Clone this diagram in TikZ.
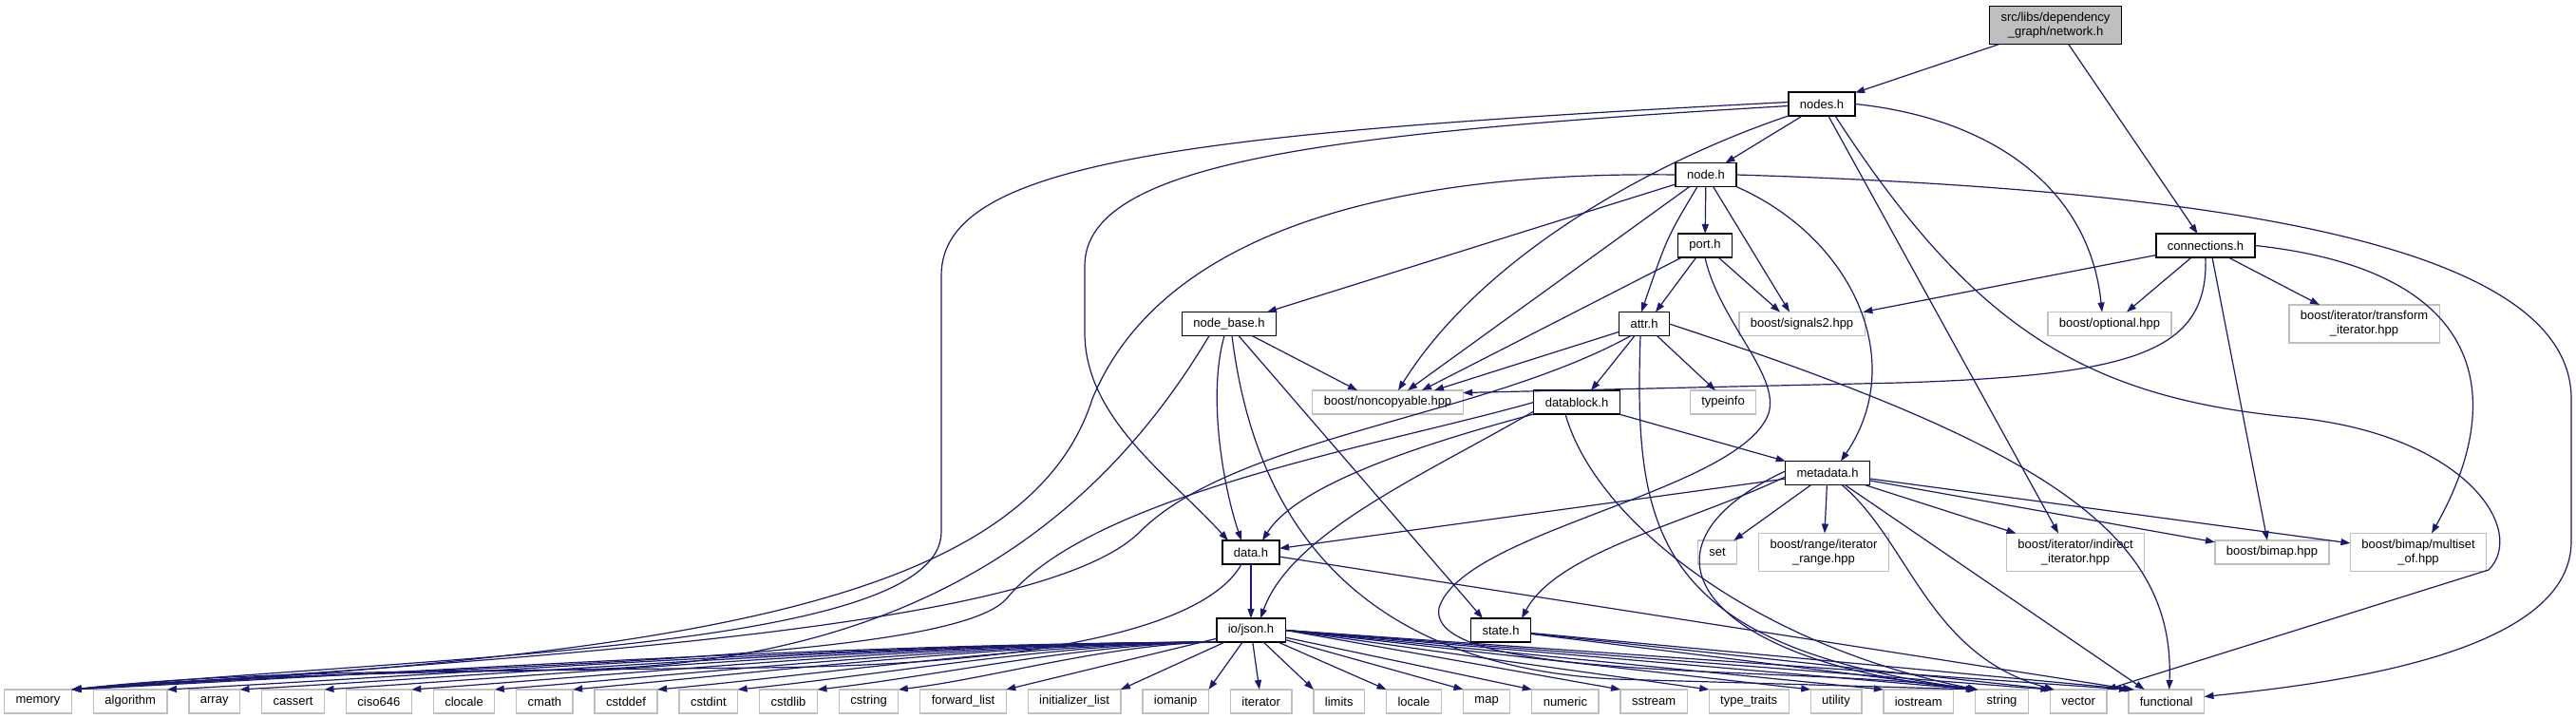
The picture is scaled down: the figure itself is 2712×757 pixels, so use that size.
\documentclass[tikz,border=0pt]{standalone}
\usepackage{fontspec}
\setmainfont{Liberation Sans}
\usepackage{xcolor}
\usepackage{tikz}
\usetikzlibrary{arrows.meta,positioning}
\definecolor{edgeblue}{HTML}{191970}
\definecolor{boxgray}{HTML}{BFBFBF}

\begin{document}
\begin{tikzpicture}[x=1pt,y=1pt,
  hdr/.style={draw=black,line width=1.4pt,fill=white,font=\fontsize{13pt}{15pt}\selectfont,
    inner xsep=12pt,inner ysep=2pt,minimum height=25pt,outer sep=0pt,align=center},
  sys/.style={hdr,draw=boxgray},
  root/.style={hdr,fill=boxgray},
  two/.style={minimum height=40pt},
  arr/.style={-{Triangle[length=10pt,width=7pt]},draw=edgeblue,line width=1.2pt}]
\useasboundingbox (0,0) rectangle (2712,-757);
\node[root,two] (net) at (2164,-26.5) {src/libs/dependency\\\_graph/network.h};
\node[hdr] (nodesh) at (1918,-109.5) {nodes.h};
\node[hdr] (nodeh) at (1796,-184) {node.h};
\node[hdr] (port) at (1795,-258.5) {port.h};
\node[hdr] (conn) at (2322,-258.5) {connections.h};
\node[hdr] (nodebase) at (1294,-341) {node\_base.h};
\node[hdr] (attr) at (1731,-341) {attr.h};
\node[sys] (signals) at (1897,-341) {boost/signals2.hpp};
\node[sys] (optional) at (2221,-341) {boost/optional.hpp};
\node[sys,two] (transform) at (2489,-341) {boost/iterator/transform\\\_iterator.hpp};
\node[sys] (noncopy) at (1461,-423.5) {boost/noncopyable.hpp};
\node[hdr] (datablock) at (1660,-423.5) {datablock.h};
\node[sys] (typeinfo) at (1814,-423.5) {typeinfo};
\node[hdr] (metadata) at (1924,-498) {metadata.h};
\node[hdr] (data) at (1317,-581.5) {data.h};
\node[sys] (set) at (1808,-581.5) {set};
\node[sys,two] (range) at (1920,-581.5) {boost/range/iterator\\\_range.hpp};
\node[sys,two] (indirect) at (2185,-581.5) {boost/iterator/indirect\\\_iterator.hpp};
\node[sys] (bimap) at (2392,-581.5) {boost/bimap.hpp};
\node[sys,two] (multiset) at (2546,-581.5) {boost/bimap/multiset\\\_of.hpp};
\node[hdr] (json) at (1317,-663.5) {io/json.h};
\node[hdr] (state) at (1580,-663.5) {state.h};
\node[sys] (memory) at (40,-738.5) {memory};
\node[sys,right=23pt of memory] (algorithm) {algorithm};
\node[sys,right=23pt of algorithm] (array) {array};
\node[sys,right=23pt of array] (cassert) {cassert};
\node[sys,right=23pt of cassert] (ciso) {ciso646};
\node[sys,right=23pt of ciso] (clocale) {clocale};
\node[sys,right=23pt of clocale] (cmath) {cmath};
\node[sys,right=23pt of cmath] (cstddef) {cstddef};
\node[sys,right=23pt of cstddef] (cstdint) {cstdint};
\node[sys,right=23pt of cstdint] (cstdlib) {cstdlib};
\node[sys,right=23pt of cstdlib] (cstring) {cstring};
\node[sys,right=23pt of cstring] (fwdlist) {forward\_list};
\node[sys,right=23pt of fwdlist] (initlist) {initializer\_list};
\node[sys,right=23pt of initlist] (iomanip) {iomanip};
\node[sys,right=23pt of iomanip] (iterator) {iterator};
\node[sys,right=23pt of iterator] (limits) {limits};
\node[sys,right=23pt of limits] (locale) {locale};
\node[sys,right=23pt of locale] (map) {map};
\node[sys,right=23pt of map] (numeric) {numeric};
\node[sys,right=23pt of numeric] (sstream) {sstream};
\node[sys,right=23pt of sstream] (typetraits) {type\_traits};
\node[sys,right=23pt of typetraits] (utility) {utility};
\node[sys,right=23pt of utility] (iostream) {iostream};
\node[sys,right=23pt of iostream] (string) {string};
\node[sys,right=23pt of string] (vector) {vector};
\node[sys,right=23pt of vector] (functional) {functional};
\draw[arr] (net) -- (nodesh); \draw[arr] (net) -- (conn);
\draw[arr] (nodesh) -- (nodeh);
\draw[arr] ([yshift=2pt]nodesh.west) .. controls (1250,-140) and (991,-170) .. (991,-290) -- (991,-560) .. controls (991,-685) and (450,-690) .. (memory.north east);
\draw[arr] ([yshift=-2pt]nodesh.west) .. controls (1400,-140) and (1142,-170) .. (1142,-280) -- (1142,-350) .. controls (1142,-440) and (1230,-500) .. ([xshift=6pt]data.north west);
\draw[arr] (nodesh.south west) .. controls (1740,-170) and (1560,-270) .. ([xshift=11pt]noncopy.north);
\draw[arr] (nodesh) -- ([xshift=-18pt]indirect.north);
\draw[arr] ([xshift=14pt]nodesh.south) .. controls (2080,-350) and (2200,-420) .. (2420,-440) .. controls (2600,-460) and (2660,-560) .. (2620,-600) -- (vector.north east);
\draw[arr] (nodesh.east) .. controls (2100,-125) and (2200,-200) .. ([xshift=-8pt]optional.north);
\draw[arr] (nodeh.west) .. controls (1450,-180) and (1220,-250) .. (1150,-420) .. controls (1080,-640) and (700,-690) .. (memory.north east);
\draw[arr] (nodeh) -- (nodebase); \draw[arr] (nodeh) -- ([xshift=21pt]noncopy.north);
\draw[arr] (nodeh) -- (port); \draw[arr] (nodeh) -- ([xshift=-13pt]signals.north);
\draw[arr] ([xshift=-9pt]nodeh.south) .. controls (1755,-250) .. ([xshift=-3pt]attr.north);
\draw[arr] (nodeh.south east) .. controls (1950,-250) and (2010,-380) .. ([xshift=14pt]metadata.north);
\draw[arr] (nodeh.east) .. controls (2350,-200) and (2707,-260) .. (2707,-420) -- (2707,-570) .. controls (2707,-690) and (2450,-720) .. ([yshift=5pt]functional.east);
\draw[arr] (port) -- ([xshift=12pt]attr.north); \draw[arr] (port) -- ([xshift=-23pt]signals.north);
\draw[arr] (port) -- ([xshift=36pt]noncopy.north);
\draw[arr] (port.south) .. controls (1810,-340) and (1880,-400) .. (1860,-440) .. controls (1820,-520) and (1540,-560) .. (1515,-640) .. controls (1500,-720) and (1900,-700) .. ([xshift=2pt]string.north west);
\draw[arr] (conn) -- (signals); \draw[arr] (conn) -- ([xshift=18pt]optional.north);
\draw[arr] (conn) -- ([xshift=-47pt]transform.north);
\draw[arr] ([xshift=7pt]conn.south) -- ([xshift=-5pt]bimap.north);
\draw[arr] (conn.east) .. controls (2620,-285) and (2640,-420) .. ([xshift=14pt]multiset.north);
\draw[arr] (conn.south) .. controls (2325,-370) and (2250,-395) .. (2000,-403) -- ([yshift=10pt]noncopy.east);
\draw[arr] (nodebase) -- ([xshift=-32pt]noncopy.north);
\draw[arr] ([xshift=-5pt]nodebase.south) .. controls (1270,-420) and (1290,-520) .. ([xshift=-10pt]data.north);
\draw[arr] ([xshift=3pt]nodebase.south) .. controls (1320,-540) and (1420,-700) .. (1700,-715) -- ([xshift=2pt]string.north west);
\draw[arr] ([xshift=10pt]nodebase.south) -- ([xshift=-19pt]state.north);
\draw[arr] ([xshift=-21pt]nodebase.south) .. controls (1150,-560) and (950,-700) .. (600,-705) .. controls (350,-707) and (200,-712) .. (memory.north east);
\draw[arr] (attr) -- ([xshift=49pt]noncopy.north);
\draw[arr] ([xshift=-14pt]attr.south) .. controls (1560,-440) and (1300,-460) .. (1200,-560) .. controls (1100,-660) and (600,-690) .. (memory.north east);
\draw[arr] (attr) -- ([xshift=15pt]datablock.north); \draw[arr] (attr) -- ([xshift=-8pt]typeinfo.north);
\draw[arr] ([xshift=-4pt]attr.south) .. controls (1720,-560) and (1740,-680) .. ([xshift=2pt]string.north west);
\draw[arr] (attr.east) .. controls (2150,-470) and (2290,-560) .. ([xshift=3pt]functional.north);
\draw[arr] (datablock.west) .. controls (1450,-470) and (1150,-520) .. (1060,-630) .. controls (1000,-700) and (450,-700) .. (memory.north east);
\draw[arr] (datablock.south west) .. controls (1450,-480) and (1360,-520) .. ([xshift=12pt]data.north);
\draw[arr] ([yshift=3pt]datablock.south west) .. controls (1500,-500) and (1360,-560) .. ([xshift=10pt]json.north);
\draw[arr] (datablock) -- (metadata);
\draw[arr] ([xshift=-12pt]datablock.south) .. controls (1680,-550) and (1850,-680) .. ([xshift=2pt]string.north west);
\draw[arr] (metadata) -- (data);
\draw[arr] ([yshift=-4pt]metadata.west) .. controls (1780,-550) and (1640,-580) .. ([xshift=22pt]state.north);
\draw[arr] (metadata) -- (set); \draw[arr] (metadata) -- (range); \draw[arr] (metadata) -- (indirect);
\draw[arr] (metadata) -- (bimap); \draw[arr] (metadata) -- (multiset);
\draw[arr] ([yshift=2pt]metadata.west) .. controls (1700,-580) and (1800,-700) .. ([xshift=2pt]string.north west);
\draw[arr] ([xshift=15pt]metadata.south) .. controls (2010,-570) and (2030,-690) .. ([xshift=4pt]vector.north west);
\draw[arr] (metadata) -- ([xshift=-23pt]functional.north);
\draw[arr] (data) -- (json);
\draw[arr] ([xshift=-10pt]data.south) .. controls (1270,-660) and (1100,-700) .. (800,-703) .. controls (500,-706) and (250,-710) .. (memory.north east);
\draw[arr] (data) -- ([xshift=4pt]functional.north west);
\draw[arr] (state) -- ([xshift=2pt]string.north west); \draw[arr] (state) -- ([xshift=4pt]vector.north west);
\draw[arr] (state) -- ([xshift=6pt]functional.north west);
\draw[arr] (json.south west) .. controls +(-420,-2) and +(360,18) .. (memory.north east);
\draw[arr] (json.south west) .. controls +(-385,-2) and +(330,18) .. (algorithm.north east);
\draw[arr] (json.south west) .. controls +(-360,-2) and +(310,18) .. (array.north east);
\draw[arr] (json.south west) .. controls +(-330,-2) and +(280,18) .. (cassert.north east);
\draw[arr] (json.south west) .. controls +(-300,-2) and +(255,18) .. (ciso.north east);
\draw[arr] (json.south west) .. controls +(-265,-2) and +(230,18) .. (clocale.north east);
\draw[arr] (json.south west) .. controls +(-235,-2) and +(200,18) .. (cmath.north east);
\draw[arr] (json.south west) .. controls +(-205,-2) and +(175,16) .. (cstddef.north east);
\draw[arr] (json.south west) .. controls +(-175,-2) and +(150,15) .. (cstdint.north east);
\draw[arr] (json.south west) .. controls +(-145,-2) and +(125,14) .. (cstdlib.north east);
\draw[arr] (json.south west) .. controls +(-115,-2) and +(100,12) .. (cstring.north east);
\draw[arr] (json) -- (fwdlist.north east); \draw[arr] (json) -- (initlist.north east);
\draw[arr] (json) -- (iomanip.north east); \draw[arr] (json) -- (iterator);
\draw[arr] (json) -- (limits.north west); \draw[arr] (json) -- (locale.north west);
\draw[arr] (json) -- (map.north west); \draw[arr] (json) -- (numeric.north west);
\draw[arr] (json.east) -- (sstream.north west); \draw[arr] (json.east) -- (typetraits.north west);
\draw[arr] (json.east) -- (utility.north west); \draw[arr] (json.east) -- (iostream.north west);
\draw[arr] (json.east) -- (string.north west); \draw[arr] (json.east) -- (vector.north west);
\draw[arr] (json.east) -- (functional.north west);
\end{tikzpicture}
\end{document}
